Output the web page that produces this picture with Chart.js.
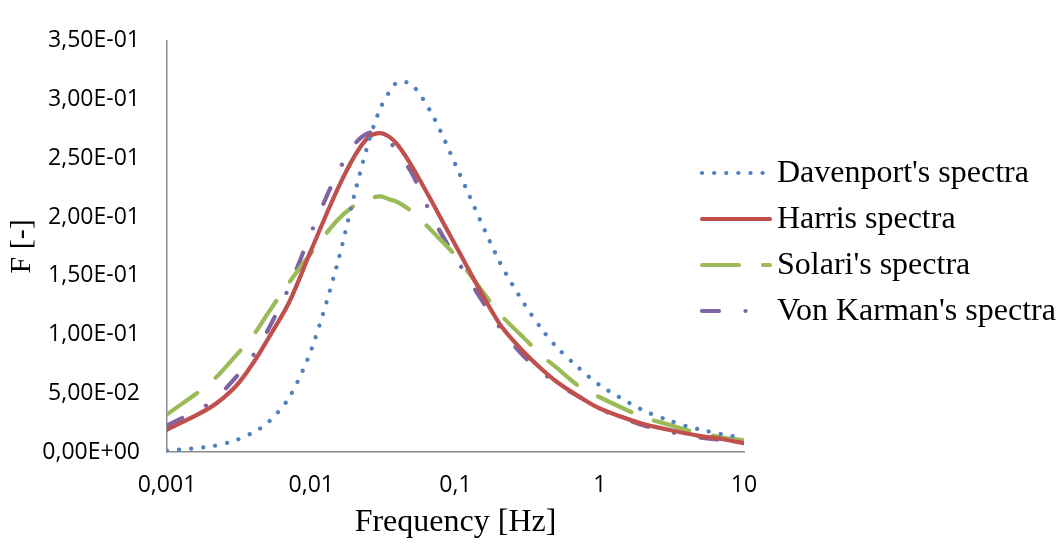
<!DOCTYPE html>
<html>
<head>
<meta charset="utf-8">
<script src="https://cdn.jsdelivr.net/npm/chart.js@4"></script>
<style>
  body { margin: 0; background: #fff; }
  canvas { display: block; }
</style>
</head>
<body>
<canvas id="spectraChart" width="1064" height="546"></canvas>
<script>
// frequencies [Hz] and spectra values
const freq = [0.001, 0.002, 0.003, 0.004, 0.005, 0.007, 0.01, 0.015, 0.02, 0.025, 0.03, 0.035, 0.04, 0.05, 0.07,
              0.1, 0.2, 0.3, 0.4, 0.5, 0.7, 1, 2, 3, 4, 5, 7, 10];
const davenport = [0.0012, 0.0047, 0.0100, 0.0170, 0.0249, 0.046, 0.087, 0.158, 0.220, 0.264, 0.292, 0.307, 0.315, 0.3125, 0.2857,
                   0.2445, 0.163, 0.126, 0.104, 0.0896, 0.0726, 0.0569, 0.0355, 0.027, 0.022, 0.019, 0.0152, 0.012];
const harris = [0.019, 0.038, 0.056, 0.0766, 0.096, 0.127, 0.172, 0.222, 0.252, 0.268, 0.2715, 0.268, 0.261, 0.243, 0.211,
                0.176, 0.110, 0.0847, 0.070, 0.060, 0.048, 0.037, 0.0238, 0.019, 0.0157, 0.0135, 0.0111, 0.0075];
const solari = [0.032, 0.059, 0.082, 0.100, 0.118, 0.144, 0.1695, 0.1966, 0.210, 0.2155, 0.2175, 0.215, 0.2125, 0.2045, 0.187,
                0.167, 0.1186, 0.0967, 0.0815, 0.072, 0.057, 0.0466, 0.0298, 0.0233, 0.0187, 0.0162, 0.0125, 0.010];
const vonKarman = [0.0225, 0.042, 0.0636, 0.083, 0.1037, 0.140, 0.187, 0.236, 0.262, 0.2715, 0.270, 0.264, 0.2545, 0.237, 0.1985,
                   0.1655, 0.107, 0.081, 0.068, 0.0577, 0.048, 0.0366, 0.0227, 0.0173, 0.0144, 0.0122, 0.0103, 0.0085];

const xTicks = [0.001, 0.01, 0.1, 1, 10];
const xTickLabels = ['0,001', '0,01', '0,1', '1', '10'];
const yTicks = [0, 0.05, 0.1, 0.15, 0.2, 0.25, 0.3, 0.35];
const yTickLabels = ['0,00E+00', '5,00E-02', '1,00E-01', '1,50E-01', '2,00E-01', '2,50E-01', '3,00E-01', '3,50E-01'];

function points(values) {
    return freq.map((f, i) => ({ x: f, y: values[i] }));
}

// legend drawn by hand so it can sit over the right part of the plot like in Excel
const legendLines = {
    id: 'legendLines',
    afterDraw(chart) {
        const ctx = chart.ctx;
        chart.data.datasets.forEach((ds, i) => {
            const y = 173 + i * 46;
            ctx.save();
            ctx.strokeStyle = ds.borderColor;
            ctx.lineWidth = ds.borderWidth;
            ctx.lineCap = 'round';
            ctx.setLineDash(ds.borderDash || []);
            ctx.beginPath();
            ctx.moveTo(702, y);
            ctx.lineTo(770, y);
            ctx.stroke();
            ctx.setLineDash([]);
            ctx.fillStyle = '#000';
            ctx.font = '32px "Liberation Serif"';
            ctx.textBaseline = 'middle';
            ctx.fillText(ds.label, 777, y + 1);
            ctx.restore();
        });
    }
};

const ctx = document.getElementById('spectraChart').getContext('2d');
const chart = new Chart(ctx, {
    type: 'line',
    data: {
        datasets: [{
            label: "Davenport's spectra",
            data: points(davenport),
            borderColor: '#4F81BD',
            borderWidth: 4.2,
            borderDash: [0.1, 12],
            borderCapStyle: 'round'
        }, {
            label: 'Harris spectra',
            data: points(harris),
            borderColor: '#C0504D',
            borderWidth: 4.2,
            borderCapStyle: 'round'
        }, {
            label: "Solari's spectra",
            data: points(solari),
            borderColor: '#9BBB59',
            borderWidth: 4.2,
            borderDash: [37, 24],
            borderCapStyle: 'round'
        }, {
            label: "Von Karman's spectra",
            data: points(vonKarman),
            borderColor: '#8064A2',
            borderWidth: 4.2,
            borderDash: [17, 26.5, 0.1, 26.5],
            borderCapStyle: 'round'
        }]
    },
    options: {
        responsive: false,
        animation: false,
        devicePixelRatio: 1,
        layout: { padding: { left: 0, right: 320, top: 20, bottom: 0 } },
        elements: {
            point: { radius: 0, hoverRadius: 0 },
            line: { tension: 0.3, fill: false }
        },
        plugins: {
            legend: { display: false },
            tooltip: { enabled: false }
        },
        scales: {
            x: {
                type: 'logarithmic',
                min: 0.001,
                max: 10,
                afterBuildTicks: scale => { scale.ticks = xTicks.map(v => ({ value: v })); },
                afterFit: scale => { scale.height = 94; },
                grid: { display: false, drawTicks: false },
                border: { display: true, color: '#8C8C8C', width: 1.5 },
                ticks: {
                    autoSkip: false,
                    maxRotation: 0,
                    padding: 20,
                    color: '#000',
                    font: { family: '"Open Sans"', size: 23 },
                    callback: value => xTickLabels[xTicks.indexOf(value)]
                },
                title: {
                    display: true,
                    text: 'Frequency [Hz]',
                    color: '#000',
                    font: { family: '"Liberation Serif"', size: 32 }
                }
            },
            y: {
                min: 0,
                max: 0.35,
                afterBuildTicks: scale => { scale.ticks = yTicks.map(v => ({ value: v })); },
                afterFit: scale => { scale.width = 167; },
                grid: { display: false, drawTicks: false },
                border: { display: true, color: '#8C8C8C', width: 1.5 },
                ticks: {
                    padding: 27,
                    color: '#000',
                    font: { family: '"Open Sans"', size: 23 },
                    callback: (value, index) => yTickLabels[index]
                },
                title: {
                    display: true,
                    text: 'F [-]',
                    color: '#000',
                    font: { family: '"Liberation Serif"', size: 30 }
                }
            }
        }
    },
    plugins: [legendLines]
});
</script>
</body>
</html>
